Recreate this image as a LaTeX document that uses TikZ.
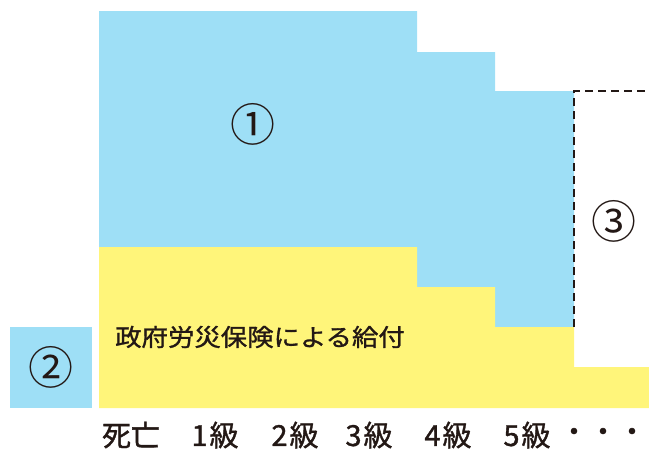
\documentclass[tikz,border=0pt]{standalone}
\usepackage{fontspec}
\setmainfont{Noto Sans CJK JP}
\newfontfamily\boldishfont[FakeBold=1.2]{Noto Sans CJK JP}
\definecolor{skyblue}{RGB}{158,223,246}
\definecolor{lemon}{RGB}{255,245,122}
\definecolor{inkc}{RGB}{35,24,21}
\begin{document}
\begin{tikzpicture}[x=1pt,y=-1pt,
  circnum/.style={font=\fontsize{45}{45}\selectfont, text=inkc, inner sep=0pt},
  axislabel/.style={font=\boldishfont\fontsize{29}{29}\selectfont, text=inkc, inner sep=0pt},
  govlabel/.style={font=\boldishfont\fontsize{24}{24}\selectfont, text=inkc, inner sep=0pt, xscale=1.1},
  dashline/.style={draw=inkc, line width=2.2pt, dash pattern=on 8pt off 5pt}]
\useasboundingbox (0,0) rectangle (649,450);
% blue area
\fill[skyblue] (99,11) -- (417,11) -- (417,52) -- (495,52) -- (495,91) -- (574,91) -- (574,327) -- (99,327) -- cycle;
% yellow area
\fill[lemon] (99,247) -- (417,247) -- (417,287) -- (495,287) -- (495,327) -- (574,327) -- (574,367) -- (649,367) -- (649,408) -- (99,408) -- cycle;
% box 2
\fill[skyblue] (10,327) rectangle (92,408);
% dashed outline
\coordinate (d1) at (574,327);
\coordinate (d2) at (574,91);
\coordinate (d3) at (649,91);
\draw[dashline] (d1) -- (d2) -- (d3);
% labels
\node[circnum] (c1) at (253,124) {①};
\node[circnum] (c2) at (51,367) {②};
\node[circnum] (c3) at (614,221) {③};
\node[govlabel] (gov) at (260,337) {政府労災保険による給付};
\node[axislabel] (l0) at (131,435) {死亡};
\node[axislabel] (l1) at (215,435) {1\hspace{2pt}級};
\node[axislabel] (l2) at (295,435) {2\hspace{2pt}級};
\node[axislabel] (l3) at (369,435) {3\hspace{2pt}級};
\node[axislabel] (l4) at (448,435) {4\hspace{2pt}級};
\node[axislabel] (l5) at (527,435) {5\hspace{2pt}級};
\node[axislabel] (l6) at (603,435) {・・・};
\end{tikzpicture}
\end{document}
